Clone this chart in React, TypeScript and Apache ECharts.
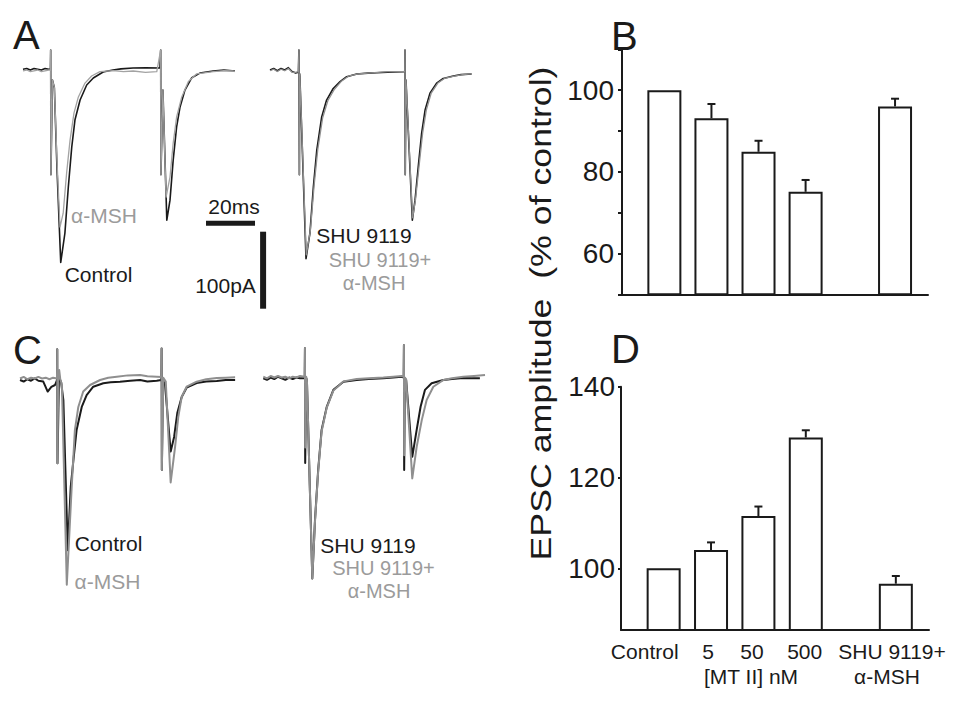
import React, { useEffect, useRef } from 'react';
import * as echarts from 'echarts';

// ---------- scale of the recordings ----------
const PX_PER_MS = 2.45;
const PX_PER_PA = 0.77;

// ---------- Panel A traces: [time ms, current pA] ----------
const aControl: number[][] = [
  [0, 1], [1.5, 2], [3, 0], [4.5, 2], [6, 1], [7.5, 0], [9, 2], [10.5, 1], [11.2, 1], [11.3, 26], [11.4, -136],
  [12.0, -13], [12.8, -23], [13.9, -130], [15.4, -250], [17.1, -212], [18.5, -152], [19.9, -100], [21.2, -65],
  [23.3, -39], [26.0, -19.5], [28.7, -10.4], [32.7, -2.6], [36.7, 0], [40, 1.5], [44.9, 2.6], [50, 3], [55.9, 2.6],
  [56.2, 26], [56.3, -136], [57.1, -26], [58.7, -195], [60.0, -169], [61.3, -117], [62.7, -74], [64.1, -48],
  [66.1, -26], [68.9, -10], [72.2, -4], [77.6, -1.3], [82, 0], [86.5, -1.3],
];
const aMSH: number[][] = [
  [0, -1], [1.5, 0], [3, -2], [4.5, -1], [6, 0], [7.5, -2], [9, -1], [10.5, 0], [11.2, 0], [11.3, 26], [11.4, -136],
  [12.0, -13], [12.8, -23], [13.9, -120], [15.1, -204], [16.4, -186], [17.8, -134], [19.2, -91], [20.8, -56],
  [22.6, -35], [25.3, -17], [28.0, -7.8], [31.4, -2.2], [36.9, -0.9], [41, -2], [45.0, -1.3], [50, -3], [54.6, -2.2],
  [56.2, 26], [56.3, -136], [57.1, -26], [58.4, -165], [60.0, -139], [61.3, -95], [62.7, -61], [64.8, -35],
  [67.5, -15], [70.9, -5], [77.7, -2.2], [82, -1], [85.8, -1.3], [86.5, -2],
];
const aSHU: number[][] = [
  [0, 0], [1.5, 2], [3, -1], [4.5, 2], [6, 0], [7.5, 3], [9, -2], [10.5, -4], [11.6, -3], [11.8, 26], [12.0, -136],
  [12.1, -5], [12.2, -9], [14.7, -245], [16.3, -212], [17.7, -152], [19.1, -104], [21.1, -61], [23.1, -39],
  [25.8, -24], [28.6, -15], [31.3, -8.7], [35.4, -5.2], [40, -4], [43.6, -3.5], [48, -3], [54.4, -2.2], [55.0, -2],
  [55.1, 26], [55.2, -136], [55.5, -13], [58.1, -195], [59.2, -169], [60.5, -126], [61.9, -82], [63.3, -52],
  [65.3, -30], [68.0, -17], [70.7, -11], [74.8, -7.8], [78, -6], [82.3, -5.2],
];
const aSHUMSH: number[][] = [
  [0, -1], [1.5, 1], [3, -2], [4.5, 1], [6, -1], [7.5, 2], [9, -3], [10.5, -3], [11.6, -2], [11.8, 26], [12.0, -136],
  [12.1, -5], [12.2, -9], [14.8, -240], [16.5, -208], [18.0, -150], [19.5, -103], [21.5, -62], [23.6, -40],
  [26.3, -25], [29.0, -15], [32.0, -8], [36.0, -5], [40, -4], [44, -3], [48, -2], [54.4, -2], [55.0, -2],
  [55.1, 26], [55.2, -136], [55.5, -13], [58.2, -192], [59.4, -168], [60.8, -126], [62.3, -82], [63.8, -52],
  [65.8, -30], [68.5, -17], [71.2, -11], [75.3, -8], [78.5, -6], [82.3, -5],
];

// ---------- Panel C traces ----------
const cControl: number[][] = [
  [0, 0], [1.5, -2], [3, 1], [4.5, -1], [6, 2], [7.5, -1], [9.5, -2], [11.3, -15], [12.8, -9], [14.3, -6.5], [15.1, 0],
  [15.2, 40], [15.3, -108], [15.9, 2.6], [16.8, -3], [17.7, -26], [19.5, -221], [20.7, -139], [21.8, -104],
  [23.1, -65], [25.2, -35], [27.2, -19.5], [29.9, -8.7], [34.0, -4.3], [37, -3], [40.8, -2.2], [45, -1], [49.0, 0],
  [52, -2], [55.8, -0.9], [57.7, 0], [57.8, 41], [57.9, -117], [58.4, 0], [59.2, -6.5], [61.5, -93], [62.9, -74],
  [64.2, -43], [66.0, -22], [68.0, -10], [72.1, -4], [76, -2], [80.3, -1.3], [84, 0], [87.8, 0],
];
const cMSH: number[][] = [
  [0, 2], [1.5, 4], [3, 1], [4.5, 3], [6, 2], [7.5, 4], [9, 2], [10.5, 3], [12, 1], [13.5, 3], [15.1, 2],
  [15.2, 40], [15.3, -108], [15.6, 0], [16.0, 13], [16.4, 2], [17.1, -6.5], [19.1, -266], [21.1, -139],
  [22.4, -65], [23.8, -35], [25.8, -15], [28.6, -6.5], [32.7, 0], [36, 3], [39.5, 4.3], [44, 6], [49.0, 6.5],
  [52, 5], [55.8, 4.3], [57.7, 4], [57.8, 41], [57.9, -117], [58.5, 3], [59.5, -2], [61.5, -133], [63.3, -87],
  [64.6, -48], [66.0, -22], [68.0, -8.7], [72.1, -2.2], [76, 1], [80.3, 2.6], [84, 3], [87.8, 3.5],
];
const cSHU: number[][] = [
  [0, 0], [1.5, -2], [3, 1], [4.5, -1], [6, 2], [7.5, 0], [9, -2], [10.5, 1], [12, -1], [13.5, 1], [15, 0],
  [16.9, 0], [17.0, 39], [17.1, -110], [17.3, -110], [17.5, 0], [17.8, -2], [20.0, -260], [21.1, -184],
  [22.4, -119], [23.8, -67], [25.9, -37], [28.6, -15], [32.7, -4.4], [38.1, -2.2], [43, -1], [49.0, 0], [53, 1],
  [56.5, 2], [57.3, 1], [57.4, 43], [57.5, -119], [57.8, 0], [58.3, -2], [60.8, -102], [62.6, -67], [64.2, -37],
  [66.0, -15], [68.7, -6.5], [73.5, -2.2], [77, -1], [81.6, 0.4], [85, 0], [88.4, 0],
];
const cSHUMSH: number[][] = [
  [0, 2], [1.5, 0], [3, 3], [4.5, 1], [6, 3], [7.5, 1], [9, 2], [10.5, 0], [12, 2], [13.5, 1], [15, 3],
  [16.9, 2], [17.0, 39], [17.1, -90], [17.5, 2], [17.8, -2], [20.0, -260], [21.1, -186], [22.4, -121],
  [23.8, -69], [25.9, -38], [28.6, -16], [32.7, -4], [38.1, -1], [43, 0], [49.0, 1], [53, 2], [56.5, 3],
  [57.3, 2], [57.4, 43], [57.5, -100], [57.8, 1], [58.3, -2], [60.8, -130], [62.6, -89], [64.7, -54],
  [66.7, -28], [69.4, -11], [73.5, -2.2], [77, 0], [81.6, 2], [86, 3], [90.5, 4.3],
];

// ---------- scale bars (20 ms, 100 pA), in panel A-left coordinates ----------
const scaleBarTime: number[][] = [[74.7, -199], [94.7, -199]];
const scaleBarCurrent: number[][] = [[98.0, -210], [98.0, -310]];

// ---------- Bar charts ----------
const barCategories = ['Control', '5', '50', '500', 'SHU 9119+'];
const barPositions = [1, 2, 3, 4, 5.9];
const bValues = [100, 93.1, 84.9, 75.1, 96.0];
const bErrors = [0, 3.5, 2.7, 2.9, 1.9];
const dValues = [100, 104.0, 111.5, 128.8, 96.6];
const dErrors = [0, 1.7, 2.1, 1.6, 1.7];
const bTickLabels = [60, 80, 100];
const dTickLabels = [100, 120, 140];

const FONT = '"Liberation Sans", Arial, Helvetica, sans-serif';
const BLACK = '#1a1a1a';
const GRAY = '#8f8f8f';
const TEXTGRAY = '#9b9b9b';

function traceGrid(left: number, baseline: number) {
  return {
    left,
    top: baseline - 50 * PX_PER_PA,
    width: 100 * PX_PER_MS,
    height: 370 * PX_PER_PA,
  };
}

function lineSeries(data: number[][], idx: number, color: string, width: number) {
  return {
    type: 'line',
    xAxisIndex: idx,
    yAxisIndex: idx,
    data,
    showSymbol: false,
    symbol: 'none',
    clip: false,
    silent: true,
    lineStyle: { color, width, join: 'round' },
  };
}

function errorSeries(idx: number, values: number[], errors: number[]) {
  const data = barPositions
    .map((p, i) => [p, values[i], values[i] + errors[i]])
    .filter((d, i) => errors[i] > 0);
  return {
    type: 'custom',
    xAxisIndex: idx,
    yAxisIndex: idx,
    data,
    encode: { x: 0, y: [1, 2] },
    silent: true,
    z: 3,
    renderItem: (params: any, api: any) => {
      const x = api.value(0);
      const base = api.coord([x, api.value(1)]);
      const top = api.coord([x, api.value(2)]);
      const st = { stroke: BLACK, lineWidth: 2 };
      return {
        type: 'group',
        children: [
          { type: 'line', shape: { x1: base[0], y1: base[1], x2: top[0], y2: top[1] }, style: st },
          { type: 'line', shape: { x1: top[0] - 4, y1: top[1], x2: top[0] + 4, y2: top[1] }, style: st },
        ],
      };
    },
  };
}

function barSeries(idx: number, values: number[]) {
  return {
    type: 'bar',
    xAxisIndex: idx,
    yAxisIndex: idx,
    data: barPositions.map((p, i) => [p, values[i]]),
    barWidth: 34,
    silent: true,
    itemStyle: { color: '#ffffff', borderColor: BLACK, borderWidth: 2 },
  };
}

function txt(text: string, x: number, y: number, size: number, color: string, align = 'left', extra: any = {}) {
  return {
    type: 'text',
    x,
    y,
    silent: true,
    ...extra,
    style: {
      text,
      fill: color,
      fontSize: size,
      fontFamily: FONT,
      textAlign: align,
      textVerticalAlign: 'middle',
    },
  };
}

const hiddenX = (gridIndex: number) => ({ type: 'value', gridIndex, min: 0, max: 100, show: false });
const hiddenY = (gridIndex: number) => ({ type: 'value', gridIndex, min: -320, max: 50, show: false });

const axisLine = { show: true, onZero: false, lineStyle: { color: BLACK, width: 2 } };

const option: any = {
  animation: false,
  backgroundColor: '#ffffff',
  grid: [
    traceGrid(23, 70),
    traceGrid(270, 70),
    traceGrid(20, 380),
    traceGrid(263.3, 378.3),
    { left: 622, top: 49.3, width: 306, height: 245 },
    { left: 621, top: 386.7, width: 308, height: 243.3 },
  ],
  xAxis: [
    hiddenX(0), hiddenX(1), hiddenX(2), hiddenX(3),
    { type: 'value', gridIndex: 4, min: 0.1, max: 6.6, axisLine, axisTick: { show: false }, axisLabel: { show: false }, splitLine: { show: false } },
    { type: 'value', gridIndex: 5, min: 0.1, max: 6.6, axisLine, axisTick: { show: false }, axisLabel: { show: false }, splitLine: { show: false } },
  ],
  yAxis: [
    hiddenY(0), hiddenY(1), hiddenY(2), hiddenY(3),
    {
      type: 'value', gridIndex: 4, min: 50, max: 110, interval: 10,
      axisLine,
      axisTick: { show: true, length: 4, lineStyle: { color: BLACK, width: 2 } },
      axisLabel: {
        fontSize: 28, color: BLACK, fontFamily: FONT, margin: 8,
        formatter: (v: number) => (bTickLabels.indexOf(v) >= 0 ? String(v) : ''),
      },
      splitLine: { show: false },
    },
    {
      type: 'value', gridIndex: 5, min: 86.4, max: 140,
      axisLine,
      axisTick: { show: true, length: 3, customValues: dTickLabels, lineStyle: { color: BLACK, width: 2 } },
      axisLabel: {
        customValues: dTickLabels, fontSize: 28, color: BLACK, fontFamily: FONT, margin: 6,
        padding: [0, 0, 10, 0],
      },
      splitLine: { show: false },
    },
  ],
  series: [
    lineSeries(aControl, 0, BLACK, 1.6),
    lineSeries(aMSH, 0, '#a3a3a3', 1.3),
    lineSeries(aSHU, 1, BLACK, 1.6),
    lineSeries(aSHUMSH, 1, GRAY, 1.3),
    lineSeries(cControl, 2, BLACK, 2),
    lineSeries(cMSH, 2, GRAY, 2),
    lineSeries(cSHU, 3, BLACK, 2),
    lineSeries(cSHUMSH, 3, GRAY, 2),
    { ...lineSeries(scaleBarTime, 0, BLACK, 5), lineStyle: { color: BLACK, width: 5, cap: 'butt' } },
    { ...lineSeries(scaleBarCurrent, 0, BLACK, 6), lineStyle: { color: BLACK, width: 6, cap: 'butt' } },
    barSeries(4, bValues),
    errorSeries(4, bValues, bErrors),
    barSeries(5, dValues),
    errorSeries(5, dValues, dErrors),
  ],
  graphic: [
    txt('A', 13, 35, 40, BLACK),
    txt('B', 611, 36, 40, BLACK),
    txt('C', 13, 350, 40, BLACK),
    txt('D', 611, 349, 40, BLACK),
    // panel A labels
    txt('α-MSH', 104, 215, 21, TEXTGRAY, 'center'),
    txt('Control', 98.5, 274.5, 21, BLACK, 'center'),
    txt('SHU 9119', 364, 235, 21, BLACK, 'center'),
    txt('SHU 9119+', 380, 259.5, 20, TEXTGRAY, 'center'),
    txt('α-MSH', 374, 283, 20, TEXTGRAY, 'center'),
    txt('20ms', 234, 206.5, 21, BLACK, 'center'),
    txt('100pA', 225.5, 285, 21, BLACK, 'center'),
    // panel C labels
    txt('Control', 108.5, 543.5, 21, BLACK, 'center'),
    txt('α-MSH', 107.5, 581.5, 21, TEXTGRAY, 'center'),
    txt('SHU 9119', 368, 545, 21, BLACK, 'center'),
    txt('SHU 9119+', 383.5, 567.5, 20, TEXTGRAY, 'center'),
    txt('α-MSH', 379, 591, 20, TEXTGRAY, 'center'),
    // shared y-axis title
    txt('EPSC amplitude  (% of control)', 541, 313.5, 30, BLACK, 'center', { rotation: Math.PI / 2, scaleX: 1.19 }),
    // panel D x labels
    txt(barCategories[0], 644.7, 651.7, 21, BLACK, 'center'),
    txt(barCategories[1], 708, 651.7, 21, BLACK, 'center'),
    txt(barCategories[2], 752, 651.7, 21, BLACK, 'center'),
    txt(barCategories[3], 804.7, 651.7, 21, BLACK, 'center'),
    txt(barCategories[4], 892, 651.7, 21, BLACK, 'center'),
    txt('[MT II] nM', 751, 676, 21, BLACK, 'center'),
    txt('α-MSH', 887, 676, 21, BLACK, 'center'),
  ],
};

export default function App() {
  const ref = useRef<HTMLDivElement>(null);
  useEffect(() => {
    if (!ref.current) return;
    const chart = echarts.init(ref.current, null, { renderer: 'svg' });
    chart.setOption(option);
    return () => chart.dispose();
  }, []);
  return (
    <div
      ref={ref}
      style={{ position: 'fixed', left: 0, top: 0, width: 968, height: 705, background: '#ffffff' }}
    />
  );
}
